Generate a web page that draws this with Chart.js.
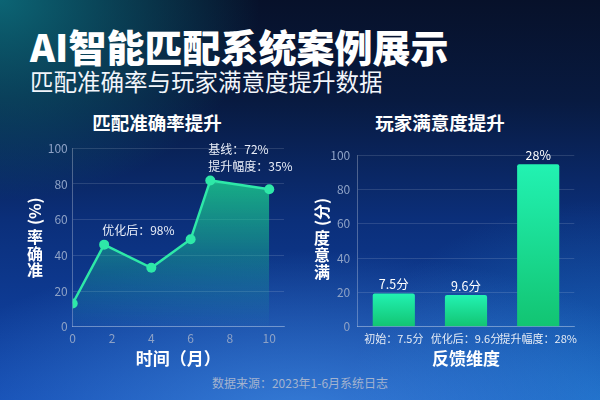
<!DOCTYPE html>
<html>
<head>
<meta charset="utf-8">
<script src="https://cdn.jsdelivr.net/npm/chart.js@4.4.1/dist/chart.umd.min.js"></script>
<style>
html,body{margin:0;padding:0;}
body{
  width:600px;height:400px;overflow:hidden;position:relative;
  font-family:"Noto Sans CJK SC","Noto Sans",sans-serif;
  background:
    radial-gradient(ellipse 260px 200px at 0% 0%, rgba(12,105,120,0.95), rgba(12,105,120,0) 100%),
    radial-gradient(ellipse 400px 170px at 50% 105%, rgba(80,160,240,0.6), rgba(80,160,240,0) 100%),
    radial-gradient(ellipse 250px 200px at 100% 100%, rgba(40,150,225,0.45), rgba(40,150,225,0) 100%),
    linear-gradient(180deg, #07112a 0%, #081a40 25%, #0b2f7a 55%, #1148b0 100%);
}
.txt{position:absolute;color:#fff;white-space:nowrap;}
#title{left:30px;top:25px;font-size:38px;font-weight:900;line-height:42px;}
#subtitle{left:30px;top:67px;font-size:23.5px;font-weight:400;line-height:28px;color:#f2f5fa;}
.ctitle{top:111px;width:200px;text-align:center;font-size:18.5px;font-weight:700;line-height:22px;}
#t1{left:57px;}
#t2{left:340px;}
#footer{left:0;width:600px;text-align:center;top:375px;font-size:12px;line-height:16px;color:#a3b3cf;}
canvas{position:absolute;top:0;}
#c1{left:0;}
#c2{left:300px;}
</style>
</head>
<body>
<div class="txt" id="title">AI智能匹配系统案例展示</div>
<div class="txt" id="subtitle">匹配准确率与玩家满意度提升数据</div>
<div class="txt ctitle" id="t1">匹配准确率提升</div>
<div class="txt ctitle" id="t2">玩家满意度提升</div>
<div class="txt" id="footer">数据来源：2023年1-6月系统日志</div>
<canvas id="c1" width="300" height="400"></canvas>
<canvas id="c2" width="300" height="400"></canvas>
<script>
// ---- data ----
const months = [0, 1.6, 4, 6, 7, 10];
const accuracy = [13, 46, 33, 49, 82, 77];
const lineNotes = [
  {index: 1, lines: ['优化后：98%']},
  {index: 4, lines: ['基线：72%', '提升幅度：35%']}
];
const feedbackCats = ['初始：7.5分', '优化后：9.6分', '提升幅度：28%'];
const satisfaction = [19.4, 18.4, 94.6];
const barLabels = ['7.5分', '9.6分', '28%'];
const leftYTitle = '准确率(%)';
const rightYTitle = '满意度(分)';
const leftXTitle = '时间（月）';
const rightXTitle = '反馈维度';

const tickColor = '#8ea2c6';
const gridColor = 'rgba(255,255,255,0.13)';
const borderColor = 'rgba(255,255,255,0.28)';
const FONT = '"Noto Sans CJK SC","Noto Sans",sans-serif';
Chart.defaults.font.family = FONT;

// vertical y-axis title: CJK upright stacked bottom-to-top, parenthetical rotated
const verticalTitle = {
  id: 'verticalTitle',
  afterDraw(chart, args, o) {
    if (!o || !o.text) return;
    const ctx = chart.ctx;
    ctx.save();
    ctx.fillStyle = '#ffffff';
    ctx.font = 'bold 16px ' + FONT;
    ctx.textAlign = 'center';
    ctx.textBaseline = 'middle';
    const m = o.text.match(/^(.*?)([（(].*[）)])$/);
    const main = m ? m[1] : o.text;
    const paren = m ? m[2] : '';
    let y = o.bottom;
    for (const ch of main) { ctx.fillText(ch, o.x, y); y -= o.step; }
    if (paren) {
      const w = ctx.measureText(paren).width;
      const cy = y + o.step - 8 - 4 - w / 2;
      ctx.translate(o.x, cy);
      ctx.rotate(-Math.PI / 2);
      ctx.fillText(paren, 0, 0);
    }
    ctx.restore();
  }
};

const pointNotes = {
  id: 'pointNotes',
  afterDatasetsDraw(chart, args, o) {
    if (!o || !o.notes) return;
    const ctx = chart.ctx;
    const meta = chart.getDatasetMeta(0);
    ctx.save();
    ctx.fillStyle = '#e9eef8';
    ctx.font = '12px ' + FONT;
    ctx.textAlign = 'left';
    ctx.textBaseline = 'middle';
    o.notes.forEach(n => {
      const p = meta.data[n.index];
      const L = n.lines.length;
      n.lines.forEach((t, i) => {
        ctx.fillText(t, p.x - 2, p.y - 14 - (L - 1 - i) * 17);
      });
    });
    ctx.restore();
  }
};

const barTopLabels = {
  id: 'barTopLabels',
  afterDatasetsDraw(chart, args, o) {
    if (!o || !o.labels) return;
    const ctx = chart.ctx;
    const meta = chart.getDatasetMeta(0);
    ctx.save();
    ctx.fillStyle = '#ffffff';
    ctx.font = '12.5px ' + FONT;
    ctx.textAlign = 'center';
    ctx.textBaseline = 'middle';
    meta.data.forEach((b, i) => ctx.fillText(o.labels[i], b.x, b.y - 9));
    ctx.restore();
  }
};

function fillGrad(context) {
  const {chart} = context;
  const a = chart.chartArea;
  if (!a) return 'rgba(30,210,150,0.5)';
  const g = chart.ctx.createLinearGradient(0, a.top, 0, a.bottom);
  g.addColorStop(0, 'rgba(28,225,145,0.92)');
  g.addColorStop(0.5, 'rgba(28,200,145,0.5)');
  g.addColorStop(1, 'rgba(28,180,160,0.02)');
  return g;
}
function barGrad(context) {
  const {chart} = context;
  const a = chart.chartArea;
  if (!a || context.type !== 'data') return '#18e0a0';
  const v = context.dataset.data[context.dataIndex];
  const yTop = chart.scales.y.getPixelForValue(v);
  const g = chart.ctx.createLinearGradient(0, yTop, 0, a.bottom);
  g.addColorStop(0, '#22f2b2');
  g.addColorStop(1, '#12c472');
  return g;
}

new Chart(document.getElementById('c1'), {
  type: 'line',
  data: {
    datasets: [{
      data: months.map((m, i) => ({x: m, y: accuracy[i]})),
      borderColor: '#2ee8a8',
      borderWidth: 2.5,
      pointRadius: 5,
      pointHoverRadius: 5,
      pointBackgroundColor: '#2ee8a8',
      pointBorderWidth: 0,
      tension: 0,
      fill: 'origin',
      backgroundColor: fillGrad
    }]
  },
  options: {
    responsive: false,
    animation: false,
    events: [],
    layout: {padding: {left: 0, top: 148.3, right: 16, bottom: 20.3}},
    plugins: {
      legend: {display: false},
      tooltip: {enabled: false},
      verticalTitle: {text: leftYTitle, x: 35, bottom: 270, step: 16.5},
      pointNotes: {notes: lineNotes}
    },
    scales: {
      x: {
        type: 'linear', min: 0, max: 10.75,
        ticks: {stepSize: 2, includeBounds: false, color: tickColor, font: {size: 12}, padding: 5},
        grid: {display: false, drawTicks: false},
        border: {color: borderColor},
        title: {display: true, text: leftXTitle, color: '#ffffff', font: {size: 17, weight: 'bold'}, padding: {top: 0, bottom: 10.5}},
        afterFit: s => { s.height = 53; }
      },
      y: {
        min: 0, max: 100,
        ticks: {stepSize: 20, color: tickColor, font: {size: 12}, padding: 5},
        grid: {color: gridColor, drawTicks: false},
        border: {color: borderColor},
        afterFit: s => { s.width = 72.7; }
      }
    }
  },
  plugins: [verticalTitle, pointNotes]
});

new Chart(document.getElementById('c2'), {
  type: 'bar',
  data: {
    labels: feedbackCats,
    datasets: [{
      data: satisfaction,
      backgroundColor: barGrad,
      borderRadius: 2,
      borderSkipped: 'bottom',
      categoryPercentage: 0.8,
      barPercentage: 0.73
    }]
  },
  options: {
    responsive: false,
    animation: false,
    events: [],
    layout: {padding: {left: 0, top: 155, right: 25.7, bottom: 20.3}},
    plugins: {
      legend: {display: false},
      tooltip: {enabled: false},
      verticalTitle: {text: rightYTitle, x: 22, bottom: 272, step: 17},
      barTopLabels: {labels: barLabels}
    },
    scales: {
      x: {
        ticks: {color: '#e6ecf5', font: {size: 11}, padding: 6, maxRotation: 0, autoSkip: false},
        grid: {display: false, drawTicks: false},
        border: {color: borderColor},
        title: {display: true, text: rightXTitle, color: '#ffffff', font: {size: 17, weight: 'bold'}, padding: {top: 0, bottom: 10.5}},
        afterFit: s => { s.height = 53; }
      },
      y: {
        min: 0, max: 100,
        ticks: {stepSize: 20, color: tickColor, font: {size: 12}, padding: 7.5},
        grid: {color: gridColor, drawTicks: false},
        border: {color: borderColor},
        afterFit: s => { s.width = 57.7; }
      }
    }
  },
  plugins: [verticalTitle, barTopLabels]
});
</script>
</body>
</html>
